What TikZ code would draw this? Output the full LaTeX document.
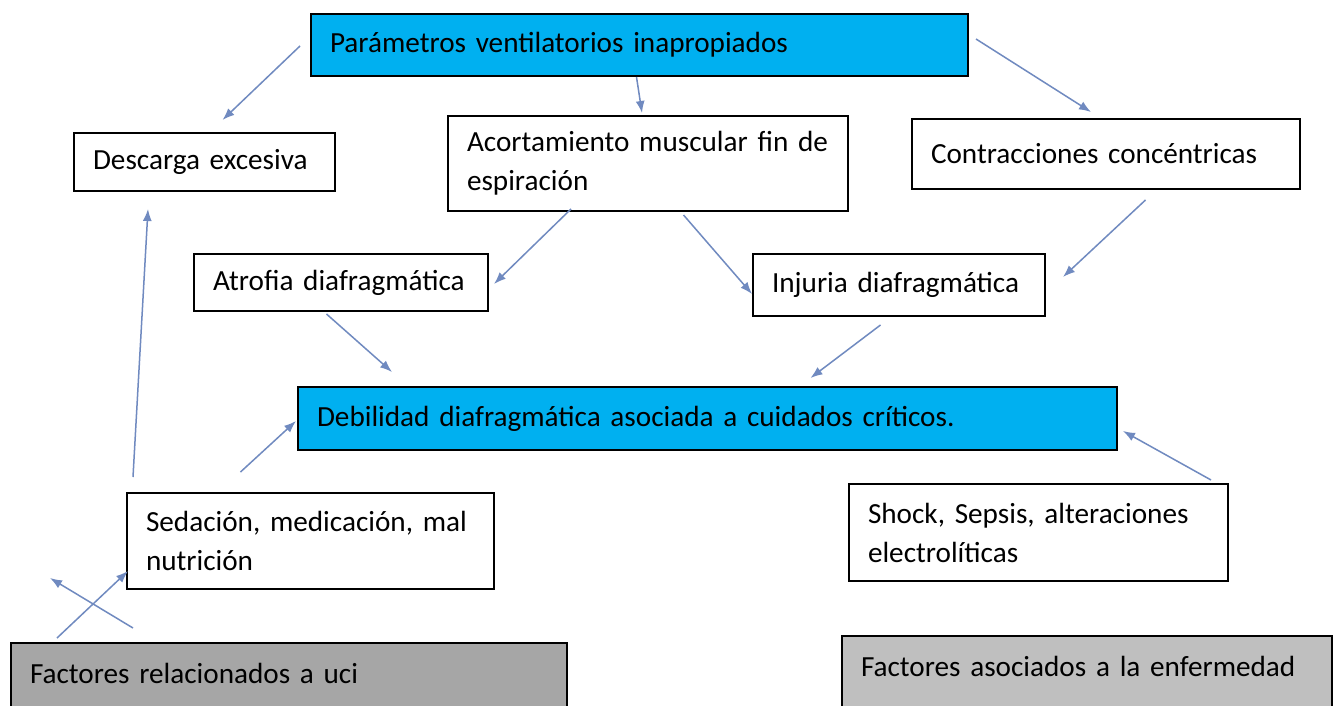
\documentclass[tikz,border=0pt]{standalone}
\usepackage{fontspec}
\setmainfont{Carlito}
\usetikzlibrary{arrows.meta}
\definecolor{celeste}{RGB}{0,176,240}
\definecolor{grisuci}{RGB}{166,166,166}
\definecolor{grisenf}{RGB}{191,191,191}
\definecolor{flecha}{RGB}{112,138,192}
\begin{document}
\begin{tikzpicture}[x=0.5pt,y=-0.5pt,
		caja/.style={draw,line width=1pt,anchor=north west,align=left,inner xsep=9.5pt,inner ysep=0pt,font=\fontsize{14.6}{19.5}\selectfont},
		flec/.style={draw=flecha,line width=0.75pt,-{Latex[length=6pt,width=4.5pt]}}]
				\clip (0,0) rectangle (1338,706);
				\fill[white] (0,0) rectangle (1338,706);
				\node[caja,fill=celeste,text width=309.5pt,minimum height=31pt] (param) at (310,13) {Parámetros ventilatorios inapropiados};
				\node[caja,fill=white,text width=111.5pt,minimum height=29pt] (descarga) at (73,132) {Descarga excesiva};
				\node[caja,fill=white,text width=181pt,minimum height=47.5pt] (acort) at (447,115) {\mbox{Acortamiento muscular fin de}\\espiración};
				\node[caja,fill=white,text width=175pt,minimum height=35pt] (contr) at (911,118) {Contracciones concéntricas};
				\node[caja,fill=white,text width=128pt,minimum height=28.5pt] (atrofia) at (193,253) {Atrofia diafragmática};
				\node[caja,fill=white,text width=127pt,minimum height=31pt] (injuria) at (752,253) {Injuria diafragmática};
				\node[caja,fill=celeste,text width=390.5pt,minimum height=31.5pt] (debil) at (297,386) {Debilidad diafragmática asociada a cuidados críticos.};
				\node[caja,fill=white,text width=164.5pt,minimum height=48pt] (sedac) at (126,492) {\mbox{Sedación, medicación, mal}\\nutrición};
				\node[caja,fill=white,text width=170.5pt,minimum height=48.5pt] (shock) at (848,483) {\mbox{Shock, Sepsis, alteraciones}\\electrolíticas};
				\node[caja,fill=grisuci,text width=259pt,minimum height=50pt] (facuci) at (10,642) {Factores relacionados a uci\\\mbox{}};
				\node[caja,fill=grisenf,text width=226pt,minimum height=50pt] (facenf) at (841,635) {\mbox{Factores asociados a la enfermedad}\\\mbox{}};
				\coordinate (libre) at (50,578);
				\draw[flec] ([shift={(-10,1)}]param.west) to ([shift={(18,-12)}]descarga.north);
				\draw[flec] ([shift={(-3,0)}]param.south) to ([shift={(-6,-2)}]acort.north);
				\draw[flec] ([shift={(7,-6)}]param.east) to ([shift={(-15,-6)}]contr.north);
				\draw[flec] ([shift={(-77,-3)}]acort.south) to ([shift={(5,1.5)}]atrofia.east);
				\draw[flec] ([shift={(35.5,3)}]acort.south) to ([shift={(0,9)}]injuria.west);
				\draw[flec] ([shift={(39.5,10)}]contr.south) to ([shift={(17,-8)}]injuria.east);
				\draw[flec] ([shift={(-14.5,2)}]atrofia.south) to ([shift={(95,-14)}]debil.north west);
				\draw[flec] ([shift={(-18.5,8)}]injuria.south) to ([shift={(103,-8)}]debil.north);
				\draw[flec] ([shift={(7,-15)}]sedac.north west) to ([shift={(75,17)}]descarga.south west);
				\draw[flec] ([shift={(-70,-20)}]sedac.north) to ([shift={(-1,2.5)}]debil.west);
				\draw[flec] ([shift={(47,-4)}]facuci.north west) to ([shift={(2,-19)}]sedac.south west);
				\draw[flec] ([shift={(123,-14)}]facuci.north west) to (libre);
				\draw[flec] ([shift={(-18,-3)}]shock.north east) to ([shift={(5,12.5)}]debil.east);
			\end{tikzpicture}
\end{document}
